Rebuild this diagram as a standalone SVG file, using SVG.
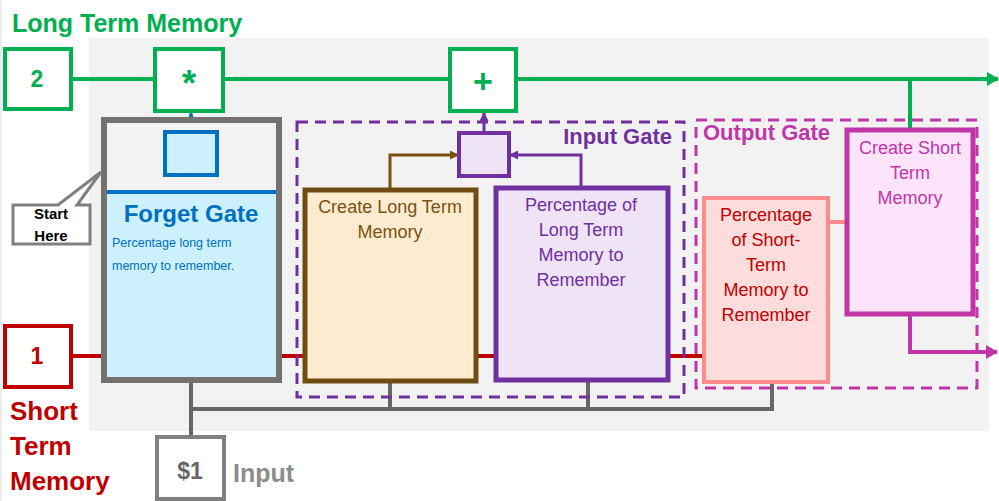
<svg xmlns="http://www.w3.org/2000/svg" width="999" height="501" viewBox="0 0 999 501">
<defs>
<style>
text{font-family:"Liberation Sans",Arial,sans-serif}
.b{font-weight:bold}
.g{fill:#00B050}
.mid{text-anchor:middle}
</style>
<marker id="ag" markerWidth="12" markerHeight="14" refX="11" refY="7" orient="auto" markerUnits="userSpaceOnUse"><path d="M0,0 L12,7 L0,14 Z" fill="#00B050"/></marker>
<marker id="am" markerWidth="12" markerHeight="14" refX="11" refY="7" orient="auto" markerUnits="userSpaceOnUse"><path d="M0,0 L12,7 L0,14 Z" fill="#C036A8"/></marker>
<marker id="ab" markerWidth="8" markerHeight="8" refX="7" refY="4" orient="auto" markerUnits="userSpaceOnUse"><path d="M0,0 L8,4 L0,8 Z" fill="#0070C0"/></marker>
<marker id="ap" markerWidth="9" markerHeight="9" refX="8" refY="4.5" orient="auto" markerUnits="userSpaceOnUse"><path d="M0,0 L9,4.5 L0,9 Z" fill="#7030A0"/></marker>
<marker id="abr" markerWidth="9" markerHeight="9" refX="8" refY="4.5" orient="auto" markerUnits="userSpaceOnUse"><path d="M0,0 L9,4.5 L0,9 Z" fill="#7A5212"/></marker>
</defs>
<rect width="999" height="501" fill="#FFFFFF"/>
<line x1="1" y1="0" x2="1" y2="501" stroke="#D9D9D9" stroke-width="1"/>
<rect x="89" y="38" width="900" height="393" fill="#F2F2F2"/>
<text x="12" y="32" class="b g" font-size="25">Long Term Memory</text>

<g id="connectors" fill="none">
<line x1="72" y1="79" x2="155" y2="79" stroke="#00B050" stroke-width="4"/>
<line x1="223" y1="79" x2="450" y2="79" stroke="#00B050" stroke-width="4"/>
<line x1="516" y1="79" x2="998" y2="79" stroke="#00B050" stroke-width="4" marker-end="url(#ag)"/>
<line x1="910" y1="79" x2="910" y2="130" stroke="#00B050" stroke-width="4"/>
<line x1="191" y1="192" x2="191" y2="175" stroke="#0070C0" stroke-width="3"/>
<line x1="191" y1="132" x2="191" y2="113" stroke="#0070C0" stroke-width="3" marker-end="url(#ab)"/>
<line x1="484" y1="133" x2="484" y2="113" stroke="#7030A0" stroke-width="3" marker-end="url(#ap)"/>
<polyline points="390,189 390,155 458,155" stroke="#7A5212" stroke-width="3" marker-end="url(#abr)"/>
<polyline points="581,187 581,155 510,155" stroke="#7030A0" stroke-width="3" marker-end="url(#ap)"/>
<line x1="72" y1="356" x2="104" y2="356" stroke="#C00000" stroke-width="4"/>
<line x1="280" y1="356" x2="305" y2="356" stroke="#C00000" stroke-width="4"/>
<line x1="477" y1="356" x2="496" y2="356" stroke="#C00000" stroke-width="4"/>
<line x1="668" y1="356" x2="704" y2="356" stroke="#C00000" stroke-width="4"/>
<line x1="829" y1="222" x2="847" y2="222" stroke="#FF8B8B" stroke-width="4"/>
<polyline points="910,314 910,352 997,352" stroke="#C036A8" stroke-width="4" marker-end="url(#am)"/>
<polyline points="191,381 191,436" stroke="#666666" stroke-width="4"/>
<polyline points="191,409 772,409 772,382" stroke="#666666" stroke-width="4"/>
<line x1="390" y1="382" x2="390" y2="409" stroke="#666666" stroke-width="4"/>
<line x1="588" y1="381" x2="588" y2="409" stroke="#666666" stroke-width="4"/>
</g>

<g id="ltm-input">
<rect x="5" y="49" width="66" height="60" fill="#FFFFFF" stroke="#00B050" stroke-width="4"/>
<text x="37" y="87" class="b g mid" font-size="23">2</text>
</g>
<g id="multiply">
<rect x="155" y="49" width="68" height="62" fill="#FFFFFF" stroke="#00B050" stroke-width="4"/>
<text x="189" y="96" class="b g mid" font-size="36">*</text>
</g>
<g id="add">
<rect x="450" y="49" width="66" height="62" fill="#FFFFFF" stroke="#00B050" stroke-width="4"/>
<text x="483" y="93" class="b g mid" font-size="34">+</text>
</g>

<g id="forget-gate">
<rect x="104" y="120" width="175" height="260" fill="#F2F2F2" stroke="#767171" stroke-width="6"/>
<rect x="107" y="192" width="169" height="185" fill="#CCF0FC"/>
<line x1="107" y1="192" x2="276" y2="192" stroke="#0070C0" stroke-width="4"/>
<rect x="165" y="132" width="52" height="43" fill="#CCF0FC" stroke="#0070C0" stroke-width="4"/>
<text x="191" y="222" class="b mid" font-size="24" fill="#0070C0">Forget Gate</text>
<text x="112" y="247" font-size="12.5" fill="#0070C0">Percentage long term</text>
<text x="112" y="270" font-size="12.5" fill="#0070C0">memory to remember.</text>
</g>

<g id="start-here">
<path d="M13,205 L58,205 L101,172 L77,205 L90,205 L90,244 L13,244 Z" fill="#FFFFFF" stroke="#808080" stroke-width="3" stroke-linejoin="miter"/>
<text x="51" y="219" class="b mid" font-size="15" fill="#000000">Start</text>
<text x="51" y="241" class="b mid" font-size="15" fill="#000000">Here</text>
</g>

<g id="input-gate">
<rect x="297" y="122" width="387" height="275" fill="none" stroke="#7030A0" stroke-width="3" stroke-dasharray="11,7"/>
<text x="672" y="144" class="b" font-size="22" text-anchor="end" fill="#7030A0">Input Gate</text>
</g>
<g id="input-combine">
<rect x="459" y="133" width="50" height="43" fill="#EFE3F6" stroke="#7030A0" stroke-width="4"/>
</g>
<g id="create-ltm">
<rect x="305" y="190" width="171" height="191" fill="#FCEBCF" stroke="#6E4C12" stroke-width="5"/>
<text x="390" y="213" class="mid" font-size="18" fill="#7A5212">Create Long Term</text>
<text x="390" y="238" class="mid" font-size="18" fill="#7A5212">Memory</text>
</g>
<g id="pct-ltm">
<rect x="496" y="188" width="172" height="192" fill="#EFE3F6" stroke="#7030A0" stroke-width="5"/>
<text x="581" y="211" class="mid" font-size="18" fill="#7030A0">Percentage of</text>
<text x="581" y="236" class="mid" font-size="18" fill="#7030A0">Long Term</text>
<text x="581" y="261" class="mid" font-size="18" fill="#7030A0">Memory to</text>
<text x="581" y="286" class="mid" font-size="18" fill="#7030A0">Remember</text>
</g>

<g id="output-gate">
<rect x="696" y="120" width="281" height="268" fill="none" stroke="#C036A8" stroke-width="3" stroke-dasharray="11,7"/>
<text x="703" y="140" class="b" font-size="22" fill="#C036A8">Output Gate</text>
</g>
<g id="pct-stm">
<rect x="704" y="198" width="124" height="184" fill="#FFDCDC" stroke="#FF8B8B" stroke-width="4"/>
<text x="766" y="221" class="mid" font-size="18" fill="#C00000">Percentage</text>
<text x="766" y="246" class="mid" font-size="18" fill="#C00000">of Short-</text>
<text x="766" y="271" class="mid" font-size="18" fill="#C00000">Term</text>
<text x="766" y="296" class="mid" font-size="18" fill="#C00000">Memory to</text>
<text x="766" y="321" class="mid" font-size="18" fill="#C00000">Remember</text>
</g>
<g id="create-stm">
<rect x="847" y="130" width="126" height="184" fill="#FDE4FB" stroke="#C036A8" stroke-width="5"/>
<text x="910" y="154" class="mid" font-size="18" fill="#C036A8">Create Short</text>
<text x="910" y="179" class="mid" font-size="18" fill="#C036A8">Term</text>
<text x="910" y="204" class="mid" font-size="18" fill="#C036A8">Memory</text>
</g>

<g id="stm-input">
<rect x="5" y="326" width="66" height="61" fill="#FFFFFF" stroke="#C00000" stroke-width="4"/>
<text x="37" y="364" class="b mid" font-size="23" fill="#C00000">1</text>
<text x="10" y="420" class="b" font-size="26" fill="#C00000">Short</text>
<text x="10" y="455" class="b" font-size="26" fill="#C00000">Term</text>
<text x="10" y="490" class="b" font-size="26" fill="#C00000">Memory</text>
</g>

<g id="x-input">
<rect x="157" y="437" width="67" height="62" fill="#FFFFFF" stroke="#808080" stroke-width="4"/>
<text x="190" y="479" class="b mid" font-size="23" fill="#666666">$1</text>
<text x="233" y="482" class="b" font-size="25" fill="#8C8C8C">Input</text>
</g>
</svg>
